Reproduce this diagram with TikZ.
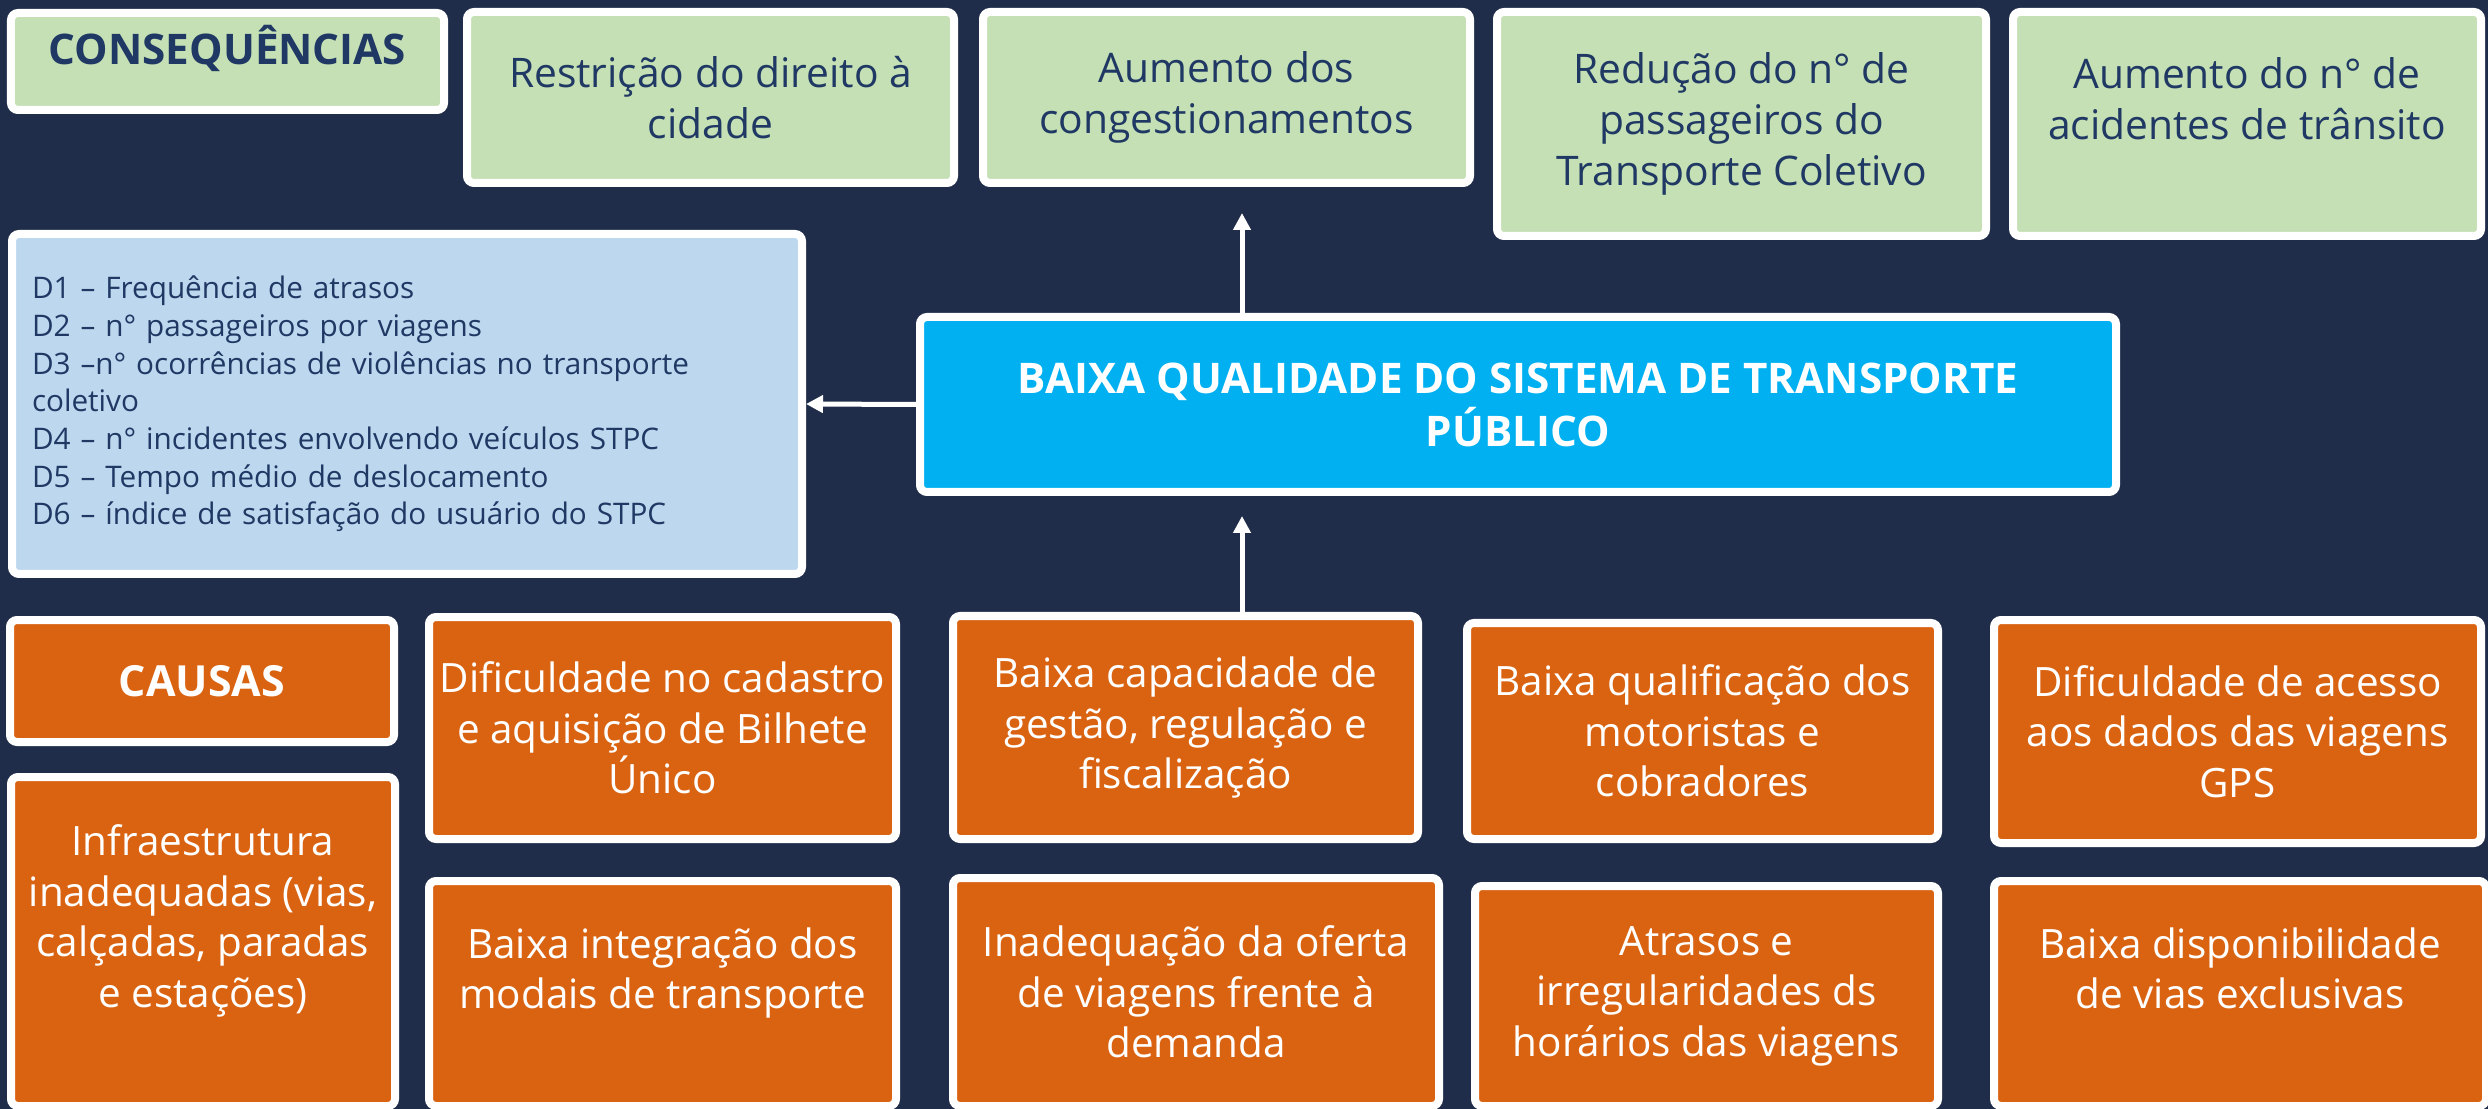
\documentclass[tikz,border=0pt]{standalone}
\usepackage{fontspec}
\setmainfont{Open Sans}
\usepackage{tikz}
\usetikzlibrary{arrows.meta, positioning, calc}
\definecolor{navybg}{RGB}{31,45,74}
\definecolor{conseqgreen}{RGB}{197,224,180}
\definecolor{indicblue}{RGB}{189,215,238}
\definecolor{problemcyan}{RGB}{0,176,240}
\definecolor{causeorange}{RGB}{218,99,18}
\definecolor{textnavy}{RGB}{31,56,100}

\begin{document}
\begin{tikzpicture}[
    box/.style={rectangle, draw=white, line width=0.08cm, rounded corners=2pt, align=center, inner sep=2pt},
    conseq/.style={box, fill=conseqgreen, text=textnavy, font=\fontsize{11.6}{14.4}\selectfont},
    cause/.style={box, fill=causeorange, text=white, font=\fontsize{11.5}{14.4}\selectfont},
    indic/.style={box, fill=indicblue, text=textnavy, align=left, text width=7.5cm, inner xsep=0.2cm, font=\fontsize{8.45}{10.7}\selectfont},
    problem/.style={box, fill=problemcyan, text=white, font=\bfseries\fontsize{12}{15.1}\selectfont},
    arr/.style={-{Triangle[width=0.17cm, length=0.17cm]}, draw=white, line width=0.05cm}
]
    \fill[navybg] (0,0) rectangle (24.88,-11.09);
    \useasboundingbox (0,0) rectangle (24.88,-11.09);

    % Consequencias
    \node[conseq, minimum width=4.33cm, minimum height=0.97cm, font=\bfseries\fontsize{12}{15}\selectfont, text height=0.30cm, text depth=0.23cm] (hcons) at (2.275,-0.615) {CONSEQUÊNCIAS};
    \node[conseq, minimum width=4.87cm, minimum height=1.71cm] (direito) at (7.105,-0.975) {Restrição do direito à\\cidade};
    \node[conseq, minimum width=4.87cm, minimum height=1.71cm] (congest) at (12.265,-0.975) {Aumento dos\\congestionamentos};
    \node[conseq, minimum width=4.89cm, minimum height=2.24cm] (passag) at (17.415,-1.24) {Redução do n° de\\passageiros do\\Transporte Coletivo};
    \node[conseq, minimum width=4.68cm, minimum height=2.24cm] (acident) at (22.47,-1.24) {Aumento do n° de\\acidentes de trânsito\\ \mbox{}};

    % Indicadores e problema central
    \node[indic, minimum width=7.90cm, minimum height=3.40cm] (indic) at (4.07,-4.04) {D1 – Frequência de atrasos\\D2 – n° passageiros por viagens\\D3 –n° ocorrências de violências no transporte\\coletivo\\D4 – n° incidentes envolvendo veículos STPC\\D5 – Tempo médio de deslocamento\\D6 – índice de satisfação do usuário do STPC};
    \node[problem, minimum width=11.96cm, minimum height=1.75cm] (central) at (15.18,-4.045) {BAIXA QUALIDADE DO SISTEMA DE TRANSPORTE\\PÚBLICO};

    % Causas
    \node[cause, minimum width=3.84cm, minimum height=1.22cm, font=\bfseries\fontsize{12.2}{15}\selectfont] (hcaus) at (2.02,-6.81) {CAUSAS};
    \node[cause, minimum width=4.67cm, minimum height=2.22cm] (cadastro) at (6.625,-7.28) {Dificuldade no cadastro\\e aquisição de Bilhete\\Único};
    \node[cause, minimum width=4.65cm, minimum height=2.23cm] (gestao) at (11.855,-7.275) {Baixa capacidade de\\gestão, regulação e\\fiscalização};
    \node[cause, minimum width=4.71cm, minimum height=2.16cm] (motor) at (17.025,-7.31) {Baixa qualificação dos\\motoristas e\\cobradores};
    \node[cause, minimum width=4.87cm, minimum height=2.23cm] (gps) at (22.375,-7.315) {Dificuldade de acesso\\aos dados das viagens\\GPS};

    \node[cause, minimum width=3.84cm, minimum height=3.29cm] (infra) at (2.03,-9.415) {Infraestrutura\\inadequadas (vias,\\calçadas, paradas\\e estações)\\ \mbox{}};
    \node[cause, minimum width=4.67cm, minimum height=2.25cm] (modais) at (6.625,-9.935) {Baixa integração dos\\modais de transporte\\ \mbox{}};
    \node[cause, minimum width=4.86cm, minimum height=2.28cm] (oferta) at (11.96,-9.92) {Inadequação da oferta\\de viagens frente à\\demanda};
    \node[cause, minimum width=4.63cm, minimum height=2.20cm] (atrasos) at (17.065,-9.96) {Atrasos e\\irregularidades ds\\horários das viagens};
    \node[cause, minimum width=4.92cm, minimum height=2.25cm] (vias) at (22.40,-9.935) {Baixa disponibilidade\\de vias exclusivas\\ \mbox{}};

    % Setas
    \coordinate (axis) at (12.42,0);
    \draw[arr, shorten >=0.26cm] (central.north -| axis) -- (congest.south -| axis);
    \draw[arr, shorten >=0.20cm] (gestao.north -| axis) -- (central.south -| axis);
    \draw[arr] (central.west) -- (indic.east);

\end{tikzpicture}
\end{document}
